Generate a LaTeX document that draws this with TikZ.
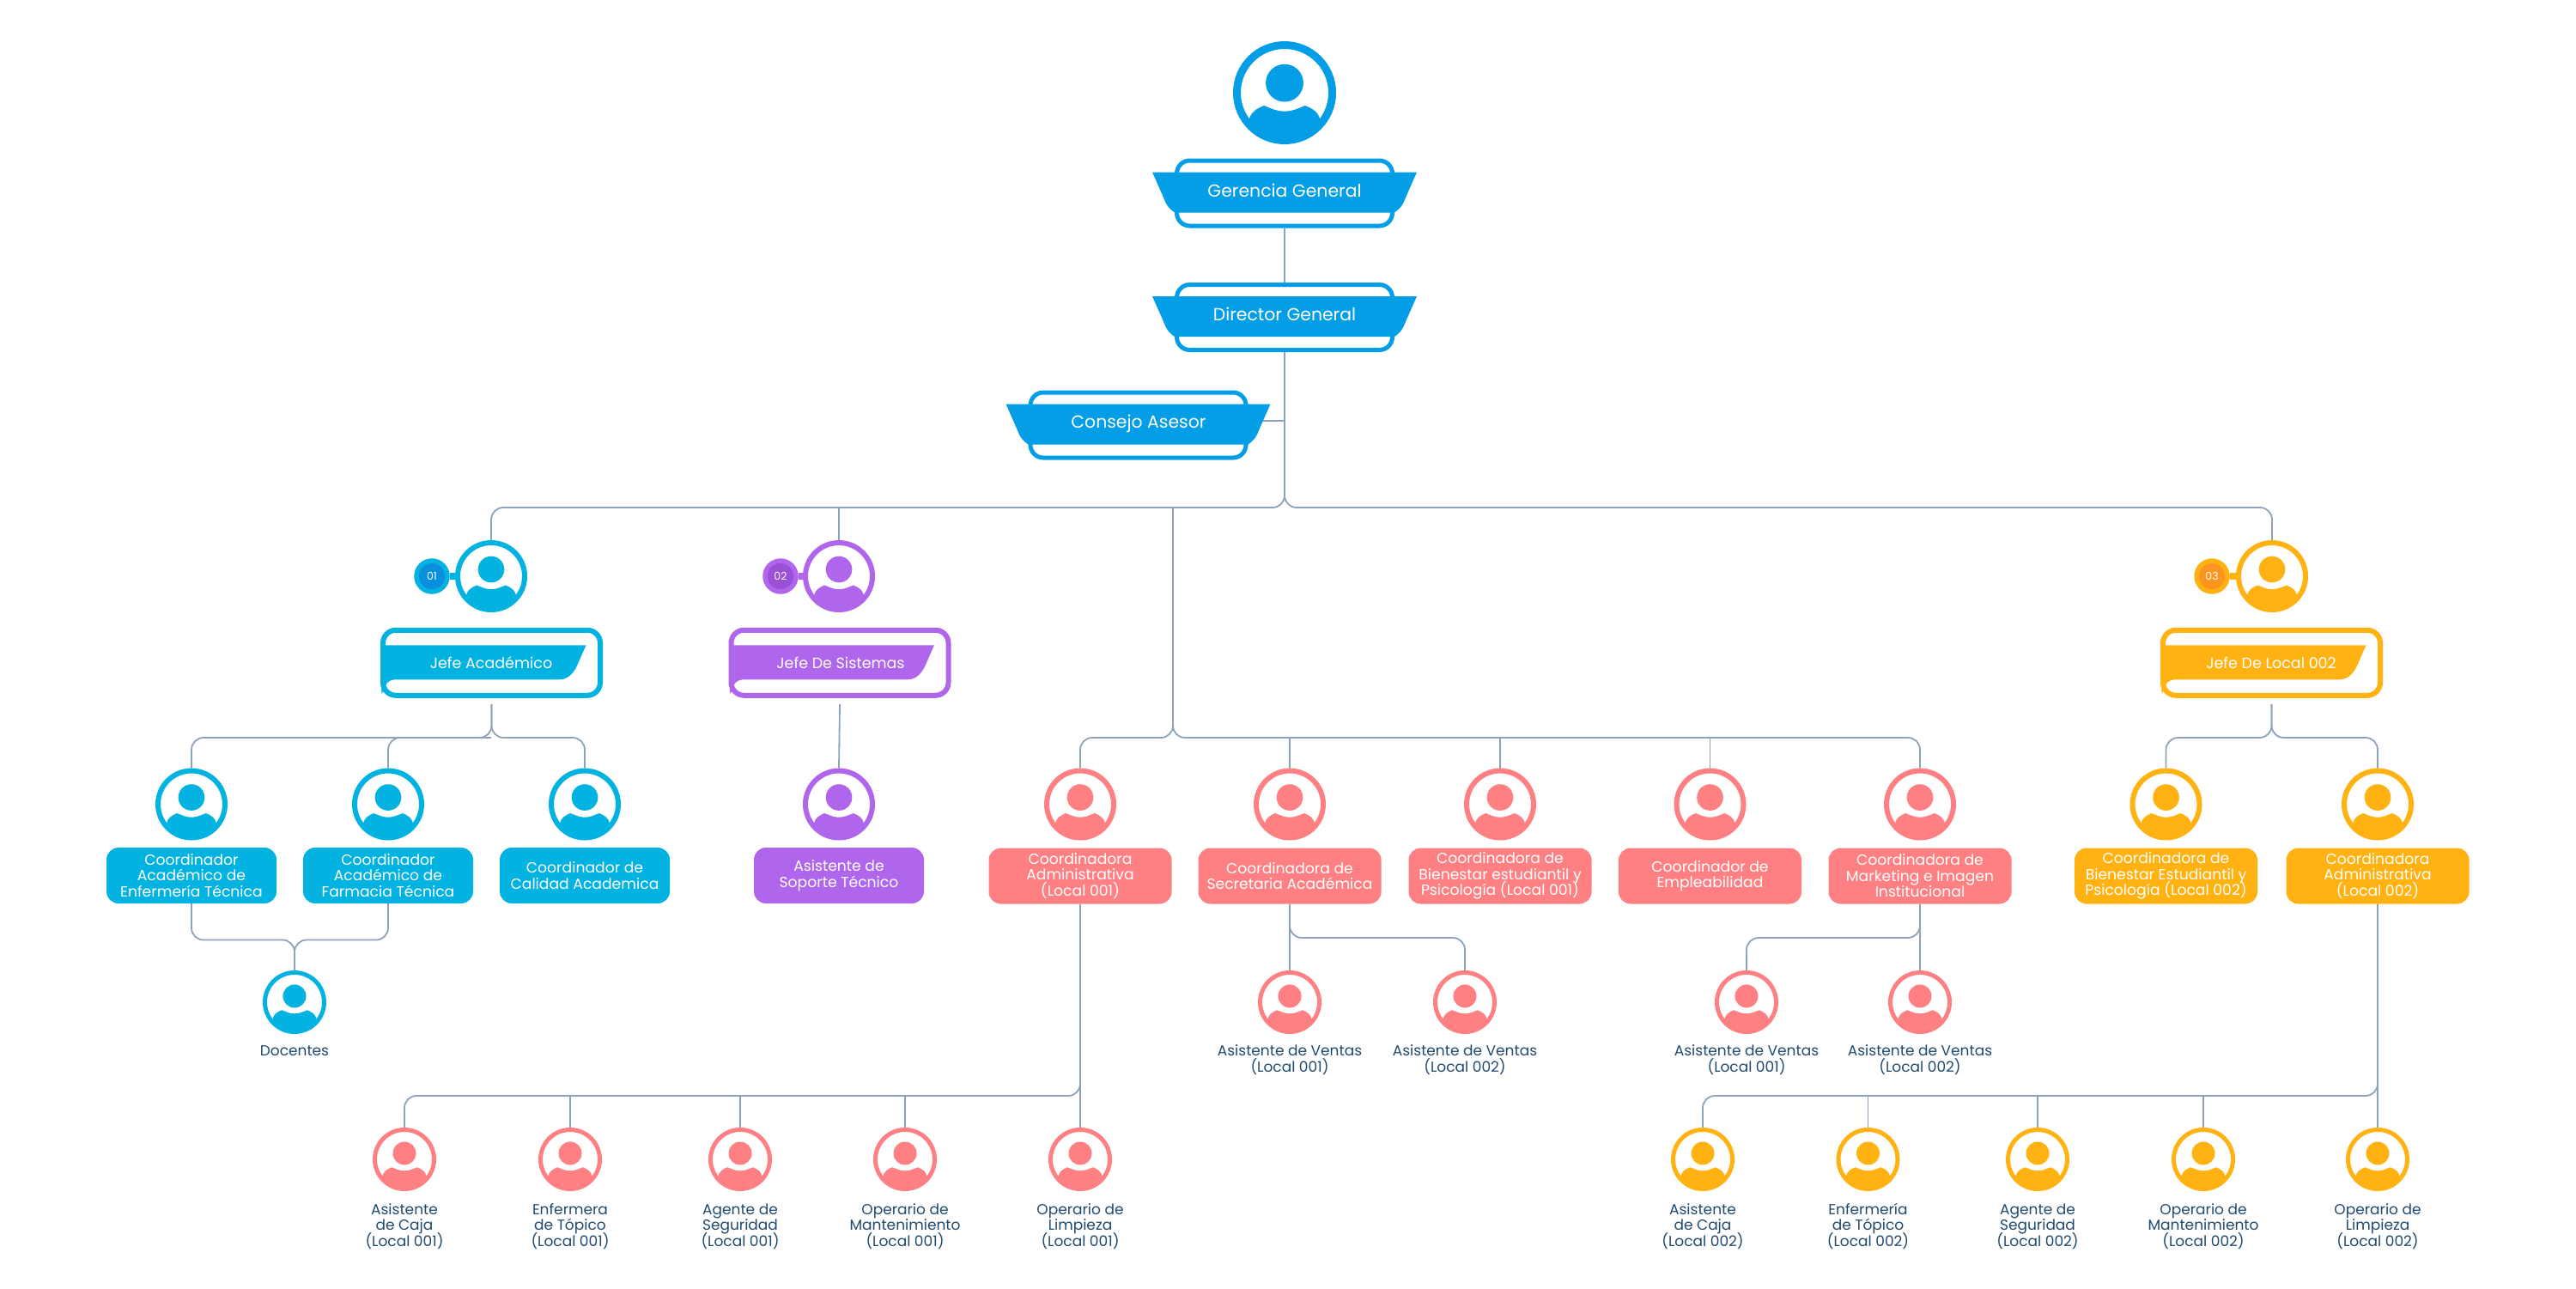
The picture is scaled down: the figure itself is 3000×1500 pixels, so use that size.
\documentclass[tikz,border=0pt]{standalone}
\usepackage{fontspec}
\setmainfont{Poppins}
\usetikzlibrary{backgrounds}
\definecolor{gblue}{HTML}{049EE6}
\definecolor{acyan}{HTML}{02B3E1}
\definecolor{acyand}{HTML}{0A8FDD}
\definecolor{spurple}{HTML}{B066EC}
\definecolor{spurpled}{HTML}{9B50D8}
\definecolor{cpink}{HTML}{FF8082}
\definecolor{lyellow}{HTML}{FFB211}
\definecolor{lyellowd}{HTML}{FC9420}
\definecolor{navy}{HTML}{1F4A70}
\definecolor{wire}{HTML}{8DA3BA}
\setlength\normallineskiplimit{-10pt}
\setlength\lineskiplimit{-10pt}
\begin{document}
\begin{tikzpicture}[
x=1pt,y=-1pt,
line/.style={draw=wire,line width=1.8pt,rounded corners=14pt},
person/.style n args={3}{circle,draw=#1,line width=#3pt,inner sep=0pt,minimum size=2*#2pt-#3pt,
	path picture={\fill[#1,shift={(path picture bounding box.center)},x=#2pt,y=-#2pt]
		(0,-.19) circle[radius=.365]
		(-.69,.53) .. controls (-.66,.38) and (-.55,.31) .. (-.40,.25) .. controls (-.28,.29) and (-.18,.36) .. (0,.36)
		.. controls (.18,.36) and (.28,.29) .. (.40,.25) .. controls (.55,.31) and (.66,.38) .. (.69,.53)
		-- (.69,1.05) -- (-.69,1.05) -- cycle;}},
bigp/.style={person={#1}{60}{9}},
midp/.style={person={#1}{42}{6}},
smap/.style={person={#1}{37}{5}},
topbox/.style={draw=gblue,line width=5pt,rounded corners=15pt,minimum width=251pt,minimum height=76pt,inner sep=0pt},
toptext/.style={text=white,font=\fontsize{20.4}{24}\selectfont,inner sep=0pt},
jefebox/.style={draw=#1,line width=6pt,rounded corners=15pt,minimum width=253pt,minimum height=76pt,inner sep=0pt},
jefetext/.style={text=white,font=\fontsize{17.5}{20}\selectfont,inner sep=0pt},
badge/.style n args={2}{circle,draw=#1,fill=#2,line width=5.5pt,minimum size=36pt,inner sep=0pt,text=white,font=\fontsize{12.5}{14}\selectfont},
neck/.style={draw=#1,line width=8pt},
cbox/.style={fill=#1,rounded corners=14pt,minimum width=198pt,minimum height=65pt,inner sep=0pt,text=white,align=center,font=\fontsize{17.2}{18.5}\selectfont},
wbox/.style={cbox=#1,minimum width=213pt},
lab/.style={text=navy,align=center,inner sep=0pt,anchor=north,text height=13pt,font=\fontsize{17}{18.5}\selectfont},
pics/ribbon/.style={code={\fill[gblue] (-154,-24.5) -- (154,-24.5) -- (141,5) .. controls (137,16) and (133,19) .. (128,22.5)
	-- (-128,22.5) .. controls (-133,19) and (-137,16) .. (-141,5) -- cycle;}},
pics/flag/.style={code={\fill[#1] (-129,-20.5) -- (110,-20.5) -- (99,4.5) .. controls (94,14) and (88,19.5) .. (79,19.5)
	-- (-111,19.5) .. controls (-120,19.5) and (-125,25) .. (-125,32) -- (-128,36) -- cycle;}}
]
\useasboundingbox (0,0) rectangle (3000,1500);

%top
\node[bigp=gblue] (root) at (1496,108) {};

\node[topbox] (gg) at (1496,225) {};
\pic at (1496,225) {ribbon};
\node[toptext] (ggt) at (1496,222) {Gerencia General};

\node[topbox] (dg) at (1496,369.5) {};
\pic at (1496,369.5) {ribbon};
\node[toptext] (dgt) at (1496,366) {Director General};

\node[topbox] (ca) at (1325.5,495) {};
\pic at (1325.5,495) {ribbon};
\node[toptext] (cat) at (1326,493) {Consejo Asesor};

%academico
\node[midp=acyan] (ja) at (572,671) {};
	\node[badge={acyan}{acyand}] (ba) at (503,671) {01};
\node[jefebox=acyan] (jab) at (572.5,771.75) {};
\pic at (572.5,771.75) {flag=acyan};
\node[jefetext] (jat) at (572,772) {Jefe Académico};

	\node[midp=acyan] (ca1) at (223,936.5) {};
	\node[cbox=acyan] (ca1b) at (223,1019.5) {Coordinador\\Académico de\\Enfermería Técnica};
	\node[midp=acyan] (ca2) at (452,936.5) {};
	\node[cbox=acyan] (ca2b) at (452,1019.5) {Coordinador\\Académico de\\Farmacia Técnica};
	\node[midp=acyan] (ca3) at (681,936.5) {};
	\node[cbox=acyan] (ca3b) at (681,1019.5) {Coordinador de\\Calidad Academica};
		\node[smap=acyan] (doc) at (343,1167) {};
		\node[lab] (doct) at (343,1216) {Docentes};

%sistemas
\node[midp=spurple] (js) at (977,671) {};
	\node[badge={spurple}{spurpled}] (bs) at (909,671) {02};
\node[jefebox=spurple] (jsb) at (978,771.75) {};
\pic at (978,771.75) {flag=spurple};
\node[jefetext] (jst) at (979,772) {Jefe De Sistemas};

	\node[midp=spurple] (cs1) at (977,936.5) {};
	\node[cbox=spurple] (cs1b) at (977,1019.5) {Asistente de\\Soporte Técnico};

%local 001
\node[midp=cpink] (cp1) at (1258,936.5) {};
\node[wbox=cpink] (cp1b) at (1258,1020) {Coordinadora\\Administrativa\\(Local 001)};
\node[midp=cpink] (cp2) at (1502,936.5) {};
\node[wbox=cpink] (cp2b) at (1502,1020) {Coordinadora de\\Secretaria Académica};
\node[midp=cpink] (cp3) at (1747,936.5) {};
\node[wbox=cpink] (cp3b) at (1747,1020) {Coordinadora de\\Bienestar estudiantil y\\Psicología (Local 001)};
\node[midp=cpink] (cp4) at (1991.5,936.5) {};
\node[wbox=cpink] (cp4b) at (1991.5,1020) {Coordinador de\\Empleabilidad};
\node[midp=cpink] (cp5) at (2236,936.5) {};
\node[wbox=cpink] (cp5b) at (2236,1020) {Coordinadora de\\Marketing e Imagen\\Institucional};

	\node[smap=cpink] (ve1) at (1502,1167) {};
	\node[lab] (ve1t) at (1502,1235) {Asistente de Ventas\\(Local 001)};
	\node[smap=cpink] (ve2) at (1706,1167) {};
	\node[lab] (ve2t) at (1706,1235) {Asistente de Ventas\\(Local 002)};
	\node[smap=cpink] (ve3) at (2034,1167) {};
	\node[lab] (ve3t) at (2034,1235) {Asistente de Ventas\\(Local 001)};
	\node[smap=cpink] (ve4) at (2236,1167) {};
	\node[lab] (ve4t) at (2236,1235) {Asistente de Ventas\\(Local 002)};

	\node[smap=cpink] (ps1) at (471,1350) {};
	\node[lab] (ps1t) at (471,1438) {Asistente\\de Caja\\(Local 001)};
	\node[smap=cpink] (ps2) at (664,1350) {};
	\node[lab] (ps2t) at (664,1438) {Enfermera\\de Tópico\\(Local 001)};
	\node[smap=cpink] (ps3) at (862,1350) {};
	\node[lab] (ps3t) at (862,1438) {Agente de\\Seguridad\\(Local 001)};
	\node[smap=cpink] (ps4) at (1054,1350) {};
	\node[lab] (ps4t) at (1054,1438) {Operario de\\Mantenimiento\\(Local 001)};
	\node[smap=cpink] (ps5) at (1258,1350) {};
	\node[lab] (ps5t) at (1258,1438) {Operario de\\Limpieza\\(Local 001)};

%local 002
\node[midp=lyellow] (jl) at (2646,671) {};
	\node[badge={lyellow}{lyellowd}] (bl) at (2576,671) {03};
\node[jefebox=lyellow] (jlb) at (2645.5,771.75) {};
\pic at (2645.5,771.75) {flag=lyellow};
\node[jefetext] (jlt) at (2645,772) {Jefe De Local 002};

	\node[midp=lyellow] (cy1) at (2522.5,936.5) {};
	\node[wbox=lyellow] (cy1b) at (2522.5,1020) {Coordinadora de\\Bienestar Estudiantil y\\Psicología (Local 002)};
	\node[midp=lyellow] (cy2) at (2769,936.5) {};
	\node[wbox=lyellow] (cy2b) at (2769,1020) {Coordinadora\\Administrativa\\(Local 002)};

	\node[smap=lyellow] (ys1) at (1983,1350) {};
	\node[lab] (ys1t) at (1983,1438) {Asistente\\de Caja\\(Local 002)};
	\node[smap=lyellow] (ys2) at (2175.5,1350) {};
	\node[lab] (ys2t) at (2175.5,1438) {Enfermería\\de Tópico\\(Local 002)};
	\node[smap=lyellow] (ys3) at (2373,1350) {};
	\node[lab] (ys3t) at (2373,1438) {Agente de\\Seguridad\\(Local 002)};
	\node[smap=lyellow] (ys4) at (2566,1350) {};
	\node[lab] (ys4t) at (2566,1438) {Operario de\\Mantenimiento\\(Local 002)};
	\node[smap=lyellow] (ys5) at (2769,1350) {};
	\node[lab] (ys5t) at (2769,1438) {Operario de\\Limpieza\\(Local 002)};

%bus points
\coordinate (cam) at (1456,490);
\coordinate (bus) at (1496,591);
\coordinate (busp) at (1366,591);
\coordinate (busc) at (572,859);
\coordinate (busd) at (343,1094.5);
\coordinate (busq) at (1366,859);
\coordinate (busv) at (1502,1092);
\coordinate (busm) at (2236,1092);
\coordinate (busr) at (1258,1276);
\coordinate (busy) at (2769,1276);
\coordinate (busl) at (2646,859);

\begin{scope}[on background layer]
\path[line] (gg.south) -- (dg.north);
\path[line] (cam) -- (dg.south |- cam);

\path[line] (dg.south) |- (ja.north |- bus) -- (ja.north);
\path[line] (dg.south) |- (jl.north |- bus) -- (jl.north);
\path[line] (js.north |- bus) -- (js.north);
\path[line] (busp) |- (cp1.north |- busq) -- (cp1.north);
\path[line] (busp) |- (cp5.north |- busq) -- (cp5.north);
	\path[line] (cp2.north |- busq) -- (cp2.north);
	\path[line] (cp3.north |- busq) -- (cp3.north);
	\path[line] (cp4.north |- busq) -- (cp4.north);

\path[line] ([yshift=-7pt]jab.south) |- (ca1.north |- busc) -- (ca1.north);
\path[line] ([yshift=-7pt]jab.south) |- (ca3.north |- busc) -- (ca3.north);
\path[line] (ca2.north) |- (busc);
\path[line] (ca1b.south) |- (busd) -- (doc.north);
\path[line] (ca2b.south) |- (busd) -- (doc.north);

\path[line] ([yshift=-7pt]jsb.south) -- (cs1.north);

\path[line] (cp2b.south) -- (ve1.north);
\path[line] (cp2b.south) |- (ve2.north |- busv) -- (ve2.north);
\path[line] (cp5b.south) -- (ve4.north);
\path[line] (cp5b.south) |- (ve3.north |- busm) -- (ve3.north);

\path[line] (cp1b.south) -- (ps5.north);
\path[line] (cp1b.south) |- (ps1.north |- busr) -- (ps1.north);
	\path[line] (ps2.north |- busr) -- (ps2.north);
	\path[line] (ps3.north |- busr) -- (ps3.north);
	\path[line] (ps4.north |- busr) -- (ps4.north);

\path[line] ([yshift=-7pt]jlb.south) |- (cy1.north |- busl) -- (cy1.north);
\path[line] ([yshift=-7pt]jlb.south) |- (cy2.north |- busl) -- (cy2.north);
\path[line] (cy2b.south) -- (ys5.north);
\path[line] (cy2b.south) |- (ys1.north |- busy) -- (ys1.north);
	\path[line] (ys2.north |- busy) -- (ys2.north);
	\path[line] (ys3.north |- busy) -- (ys3.north);
	\path[line] (ys4.north |- busy) -- (ys4.north);

%badge necks
\path[neck=acyan] (ba) -- (ja);
\path[neck=spurple] (bs) -- (js);
\path[neck=lyellow] (bl) -- (jl);
\end{scope}
\end{tikzpicture}
\end{document}
